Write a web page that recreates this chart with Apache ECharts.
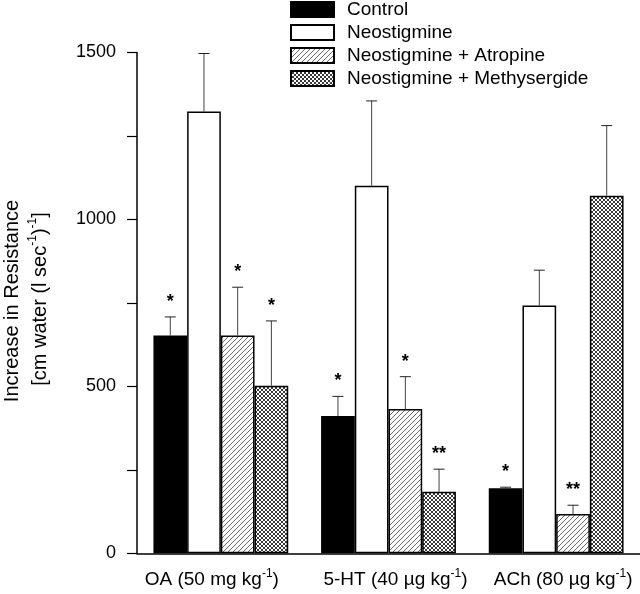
<!DOCTYPE html>
<html>
<head>
<meta charset="utf-8">
<script src="https://cdn.jsdelivr.net/npm/echarts@6/dist/echarts.min.js"></script>
<style>html,body{margin:0;padding:0;background:#fff}#c{width:640px;height:594px}</style>
</head>
<body>
<div id="c"></div>
<script>
// ---- data ----
const categories = ['OA (50 mg kg^-1)', '5-HT (40 µg kg^-1)', 'ACh (80 µg kg^-1)'];
const seriesNames = ['Control', 'Neostigmine', 'Neostigmine + Atropine', 'Neostigmine + Methysergide'];
const controlValues = [652, 411, 195];
const neostigmineValues = [1323, 1101, 742];
const atropineValues = [652, 432, 118];
const methysergideValues = [502, 184, 1071];
const controlErr = [56, 59, 3];
const neostigmineErr = [174, 254, 106];
const atropineErr = [145, 97, 26];
const methysergideErr = [194, 68, 210];
const controlStars = ['*', '*', '*'];
const neostigmineStars = ['', '', ''];
const atropineStars = ['*', '*', '**'];
const methysergideStars = ['*', '**', ''];
const yTicks = [0, 500, 1000, 1500];

const FONT = 'Liberation Sans, Arial, sans-serif';
// horizontal nudges of the category labels (style only)
const labelShift = [-9, 2, 7];

function hatchPattern() {
  const c = document.createElement('canvas');
  c.width = 5; c.height = 5;
  const g = c.getContext('2d');
  g.fillStyle = '#fff'; g.fillRect(0, 0, 5, 5);
  g.strokeStyle = '#3a3a3a'; g.lineWidth = 0.75;
  g.beginPath();
  g.moveTo(-1, 6); g.lineTo(6, -1);
  g.moveTo(-1, 1); g.lineTo(1, -1);
  g.moveTo(4, 6); g.lineTo(6, 4);
  g.stroke();
  return c;
}
function crossPattern() {
  const c = document.createElement('canvas');
  c.width = 4; c.height = 4;
  const g = c.getContext('2d');
  g.fillStyle = '#fff'; g.fillRect(0, 0, 4, 4);
  g.strokeStyle = '#222'; g.lineWidth = 0.9;
  g.beginPath();
  g.moveTo(-1, 5); g.lineTo(5, -1);
  g.moveTo(-1, -1); g.lineTo(5, 5);
  g.stroke();
  return c;
}

const values = [controlValues, neostigmineValues, atropineValues, methysergideValues];
const errs = [controlErr, neostigmineErr, atropineErr, methysergideErr];
const stars = [controlStars, neostigmineStars, atropineStars, methysergideStars];
const fills = ['#000', '#fff', { image: hatchPattern(), repeat: 'repeat' }, { image: crossPattern(), repeat: 'repeat' }];

const CAT_GAP = 0.196;

const barSeries = seriesNames.map((name, i) => ({
  name: name,
  type: 'bar',
  data: values[i],
  barGap: '0%',
  barCategoryGap: (CAT_GAP * 100) + '%',
  itemStyle: { color: fills[i], borderColor: '#000', borderWidth: 1.5 },
  emphasis: { disabled: true },
  animation: false
}));

const errData = [];
for (let s = 0; s < 4; s++) {
  for (let c = 0; c < categories.length; c++) {
    errData.push([c, s, values[s][c], values[s][c] + errs[s][c]]);
  }
}

const errSeries = {
  type: 'custom',
  z: 5,
  animation: false,
  silent: true,
  data: errData,
  renderItem: function (params, api) {
    const c = api.value(0), s = api.value(1), v = api.value(2), top = api.value(3);
    const band = api.size([1, 0])[0];
    const barW = band * (1 - CAT_GAP) / 4;
    const cx = api.coord([c, 0])[0] + (s - 1.5) * barW;
    const yv = api.coord([c, v])[1];
    const yt = api.coord([c, top])[1];
    const st = stars[s][c];
    const children = [
      { type: 'line', shape: { x1: cx, y1: yv, x2: cx, y2: yt }, style: { stroke: '#444', lineWidth: 1 } },
      { type: 'line', shape: { x1: cx - 5.5, y1: yt, x2: cx + 5.5, y2: yt }, style: { stroke: '#222', lineWidth: 1 } }
    ];
    if (st) {
      children.push({ type: 'text', x: cx, y: yt - 6, style: { text: st, font: 'bold 18px ' + FONT, fill: '#000', align: 'center', verticalAlign: 'bottom' } });
    }
    return { type: 'group', children: children };
  }
};

function supFmt(v, idx) {
  const body = '{a|' + v.replace(/\^(-?\d+)/, '}{s|$1}{a|') + '}';
  const sh = labelShift[idx] || 0;
  if (sh < 0) return body + '{p|}'.replace('p', 'pl');
  if (sh > 0) return '{pr|}' + body;
  return body;
}

const chart = echarts.init(document.getElementById('c'), null, { renderer: 'canvas' });

function richFor() {
  return {
    a: { fontSize: 19, fontFamily: FONT, color: '#000', lineHeight: 24 },
    s: { fontSize: 12, fontFamily: FONT, color: '#000', verticalAlign: 'top', lineHeight: 14 },
    pl: { width: 18 },
    pr: { width: 14 }
  };
}

chart.setOption({
  backgroundColor: '#fff',
  animation: false,
  textStyle: { fontFamily: FONT, color: '#000' },
  legend: {
    data: seriesNames,
    orient: 'vertical',
    left: 290, top: 0,
    padding: 0,
    icon: 'rect',
    itemWidth: 43, itemHeight: 15,
    itemGap: 4,
    selectedMode: false,
    textStyle: { fontSize: 19, color: '#000', fontFamily: FONT, padding: [0, 0, 0, 8] }
  },
  grid: { left: 137, right: 0, top: 52.5, bottom: 40.7, containLabel: false },
  xAxis: {
    type: 'category',
    data: categories,
    axisLine: { lineStyle: { color: '#000', width: 1.5 } },
    axisTick: { show: false },
    axisLabel: {
      margin: 14,
      interval: 0,
      formatter: supFmt,
      rich: richFor()
    }
  },
  yAxis: {
    type: 'value',
    min: 0, max: 1500, interval: 250,
    axisLine: { show: true, lineStyle: { color: '#000', width: 1.5 } },
    axisTick: { show: true, length: 10, lineStyle: { color: '#000', width: 1.2 } },
    splitLine: { show: false },
    axisLabel: {
      margin: 21, fontSize: 18, color: '#000', fontFamily: FONT,
      formatter: v => (yTicks.indexOf(v) >= 0 ? String(v) : '')
    }
  },
  graphic: [
    { type: 'text', x: 12, y: 301, rotation: Math.PI / 2,
      style: { text: 'Increase in Resistance', font: '20px ' + FONT, fill: '#000', align: 'center', verticalAlign: 'middle' } },
    { type: 'text', x: 40, y: 299, rotation: Math.PI / 2,
      style: {
        text: '{a|[cm water (l sec}{s|-1}{a|)}{s|-1}{a|]}',
        align: 'center', verticalAlign: 'middle',
        rich: {
          a: { fontSize: 20, fontFamily: FONT, fill: '#000', lineHeight: 26 },
          s: { fontSize: 12, fontFamily: FONT, fill: '#000', verticalAlign: 'top', lineHeight: 14 }
        }
      } }
  ],
  series: barSeries.concat([errSeries])
});
</script>
</body>
</html>
